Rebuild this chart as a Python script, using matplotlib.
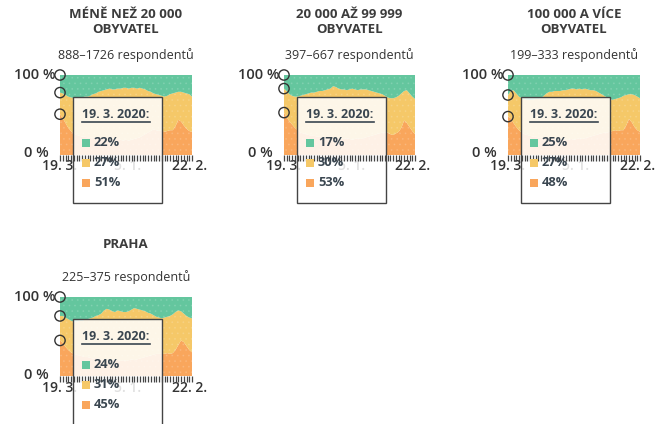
import matplotlib.pyplot as plt
import matplotlib.patches as patches
from matplotlib.lines import Line2D
import numpy as np

plt.rcParams['font.family'] = ['Open Sans', 'DejaVu Sans']
plt.rcParams['hatch.linewidth'] = 0.6

# Figure size in pixels
W, H = 657, 424

# Panel texts
titles = ['MÉNĚ NEŽ 20 000\nOBYVATEL', '20 000 AŽ 99 999\nOBYVATEL',
          '100 000 A VÍCE\nOBYVATEL', 'PRAHA']
respondents = ['888–1726 respondentů', '397–667 respondentů',
               '199–333 respondentů', '225–375 respondentů']
x_labels = ['19. 3.', '5. 1.', '22. 2.']
y_labels = ['100 %', '0 %']
tooltip_date = '19. 3. 2020:'

# Shares in % per survey wave (49 waves), top = green, middle = yellow, bottom = orange
green_small = [22, 23, 25, 27, 28, 29, 29, 28, 28, 27, 27, 26, 24, 23, 21, 20, 19, 18, 17, 18,
               18, 17, 17, 16, 16, 17, 16, 16, 17, 16, 17, 18, 20, 21, 23, 24, 25, 26, 27, 26,
               24, 23, 22, 21, 21, 22, 23, 24, 27]
yellow_small = [27, 31, 35, 39, 42, 44, 46, 48, 49, 50, 51, 52, 55, 55, 58, 60, 60, 62, 64, 62,
                63, 63, 64, 66, 65, 65, 65, 64, 62, 62, 59, 56, 52, 49, 45, 45, 45, 43, 44, 44,
                45, 46, 42, 35, 37, 41, 44, 46, 44]
orange_small = [51, 46, 40, 34, 30, 27, 25, 24, 23, 23, 22, 22, 21, 22, 21, 20, 21, 20, 19, 20,
                19, 20, 19, 18, 19, 18, 19, 20, 21, 22, 24, 26, 28, 30, 32, 31, 30, 31, 29, 30,
                31, 31, 36, 44, 42, 37, 33, 30, 29]

green_mid = [17, 20, 24, 26, 27, 27, 26, 25, 24, 23, 22, 22, 21, 20, 20, 19, 18, 17, 14, 15,
             17, 18, 18, 19, 18, 17, 18, 19, 18, 18, 18, 19, 20, 21, 22, 23, 24, 26, 28, 29,
             29, 28, 26, 23, 20, 19, 23, 27, 30]
yellow_mid = [30, 33, 34, 36, 39, 42, 46, 48, 50, 52, 54, 54, 56, 57, 58, 59, 61, 61, 65, 65,
              62, 62, 62, 60, 62, 64, 62, 60, 62, 61, 60, 58, 56, 54, 52, 50, 48, 46, 44, 45,
              46, 45, 45, 43, 37, 41, 42, 43, 44]
orange_mid = [53, 47, 42, 38, 34, 31, 28, 27, 26, 25, 24, 24, 23, 23, 22, 22, 21, 22, 21, 20,
              21, 20, 20, 21, 20, 19, 20, 21, 20, 21, 22, 23, 24, 25, 26, 27, 28, 28, 28, 26,
              25, 27, 29, 34, 43, 40, 35, 30, 26]

green_big = [25, 20, 19, 23, 27, 29, 30, 31, 31, 31, 30, 30, 29, 26, 23, 21, 21, 20, 20, 20,
             19, 19, 18, 17, 17, 18, 17, 18, 17, 18, 19, 19, 20, 22, 24, 26, 28, 30, 31, 30,
             29, 28, 26, 25, 24, 24, 25, 27, 29]
yellow_big = [27, 34, 41, 42, 42, 43, 44, 44, 45, 46, 47, 48, 49, 53, 56, 59, 58, 60, 60, 61,
              61, 62, 63, 63, 64, 62, 62, 62, 62, 60, 58, 57, 55, 52, 49, 46, 44, 41, 39, 39,
              41, 41, 43, 38, 31, 35, 40, 42, 42]
orange_big = [48, 46, 40, 35, 31, 28, 26, 25, 24, 23, 23, 22, 22, 21, 21, 20, 21, 20, 20, 19,
              20, 19, 19, 20, 19, 20, 21, 20, 21, 22, 23, 24, 25, 26, 27, 28, 28, 29, 30, 31,
              30, 31, 31, 37, 45, 41, 35, 31, 29]

green_praha = [24, 24, 26, 28, 30, 31, 31, 30, 30, 29, 28, 27, 26, 24, 23, 21, 17, 15, 16, 18,
               19, 17, 18, 19, 19, 18, 16, 14, 15, 16, 17, 18, 20, 21, 23, 25, 26, 27, 26, 25,
               24, 22, 19, 17, 18, 21, 24, 26, 27]
yellow_praha = [31, 34, 37, 39, 40, 41, 42, 44, 45, 47, 48, 50, 52, 53, 55, 58, 62, 65, 63, 62,
                60, 63, 63, 61, 62, 62, 63, 66, 64, 62, 60, 58, 55, 53, 50, 47, 46, 45, 46, 46,
                48, 49, 48, 44, 37, 36, 38, 41, 43]
orange_praha = [45, 42, 37, 33, 30, 28, 27, 26, 25, 24, 24, 23, 22, 23, 22, 21, 21, 20, 21, 20,
                21, 20, 19, 20, 19, 20, 21, 20, 21, 22, 23, 24, 25, 26, 27, 28, 28, 28, 28, 29,
                28, 29, 33, 39, 45, 43, 38, 33, 30]

GREEN = '#64c69e'
YELLOW = '#f5c868'
ORANGE = '#f9a65c'
TEXT = '#333333'
TIP = '#3a4650'

panels = [
    (green_small, yellow_small, orange_small),
    (green_mid, yellow_mid, orange_mid),
    (green_big, yellow_big, orange_big),
    (green_praha, yellow_praha, orange_praha),
]

# Axes boxes in pixels: left, top, right, bottom
boxes = [(60, 75, 192, 155), (284, 75, 415, 155), (508, 75, 640, 155), (60, 297, 192, 376)]

fig = plt.figure(figsize=(W / 100, H / 100), dpi=100)


def draw_panel(idx):
    green, yellow, orange = panels[idx]
    L, T, R, B = boxes[idx]
    w, h = R - L, B - T
    ax = fig.add_axes([L / W, 1 - B / H, w / W, h / H])

    def ac(dx, dy):
        # pixel offsets from the top-left corner of the axes -> axes coords
        return dx / w, 1 - dy / h

    x = np.arange(len(green))
    polys = ax.stackplot(x, orange, yellow, green, colors=[ORANGE, YELLOW, GREEN],
                         linewidth=0, zorder=1)
    for p in polys:
        p.set_hatch('...')
        p.set_edgecolor((1, 1, 1, 0.12))
        p.set_linewidth(0)
    ax.set_xlim(0, len(green) - 1)
    ax.set_ylim(0, 100)
    ax.patch.set_visible(False)
    for s in ax.spines.values():
        s.set_visible(False)
    ax.set_axisbelow(False)
    ax.set_yticks([])
    ax.set_xticks(x)
    ax.tick_params(axis='x', length=4.5, width=0.9, color='#444444', labelbottom=False)

    # titles
    tx, ty = ac(w / 2, -53)
    ax.text(tx, ty, titles[idx], transform=ax.transAxes, ha='center', va='center',
            fontsize=9.5, fontweight='bold', color='#3c3c3c', linespacing=1.2, clip_on=False)
    sx, sy = ac(w / 2, -20)
    ax.text(sx, sy, respondents[idx], transform=ax.transAxes, ha='center', va='center',
            fontsize=9, color=TEXT, clip_on=False)

    # y labels
    ax.text(*ac(-5, 0), y_labels[0], transform=ax.transAxes, ha='right', va='center',
            fontsize=10.5, fontweight='semibold', color=TEXT, clip_on=False)
    ax.text(*ac(-11, 78), y_labels[1], transform=ax.transAxes, ha='right', va='center',
            fontsize=10.5, fontweight='semibold', color=TEXT, clip_on=False)

    # x labels (below the tooltip)
    for lab, dx in zip(x_labels, [0, w / 2 + 2, w - 2]):
        ax.text(*ac(dx, 91), lab, transform=ax.transAxes, ha='center', va='center',
                fontsize=10, fontweight='semibold', color=TEXT, zorder=1.5, clip_on=False)

    # tooltip box
    bx, by = ac(13, 22 + 106)
    box = patches.Rectangle((bx, by), 89 / w, 106 / h, transform=ax.transAxes,
                            facecolor=(1, 1, 1, 0.85), edgecolor='#444444', linewidth=1,
                            zorder=2, clip_on=False)
    ax.add_patch(box)
    ax.text(*ac(22, 40), tooltip_date, transform=ax.transAxes, ha='left', va='center',
            fontsize=9, fontweight='bold', color=TIP, zorder=3, clip_on=False)
    ul = Line2D([ac(22, 47)[0], ac(90, 47)[0]], [ac(22, 47)[1], ac(90, 47)[1]],
                transform=ax.transAxes, color=TIP, linewidth=1.2, zorder=3,
                clip_on=False)
    ax.add_line(ul)
    vals = [green[0], yellow[0], orange[0]]
    for k, (v, col) in enumerate(zip(vals, [GREEN, YELLOW, ORANGE])):
        dy = 68 + 20 * k
        qx, qy = ac(22, dy + 4)
        ax.add_patch(patches.Rectangle((qx, qy), 8 / w, 8 / h, transform=ax.transAxes,
                                       facecolor=col, edgecolor='none', zorder=3,
                                       clip_on=False))
        ax.text(*ac(34, dy), f'{v}%', transform=ax.transAxes, ha='left', va='center',
                fontsize=9.3, fontweight='bold', color=TIP, zorder=3, clip_on=False)

    # markers at the first wave
    ax.scatter([0, 0, 0], [100, 100 - green[0], orange[0]], s=55, facecolor='none',
               edgecolor='#333333', linewidth=1, zorder=4, clip_on=False)
    return ax


for i in range(len(panels)):
    draw_panel(i)

fig.savefig('out.png', dpi=100, facecolor='white')
